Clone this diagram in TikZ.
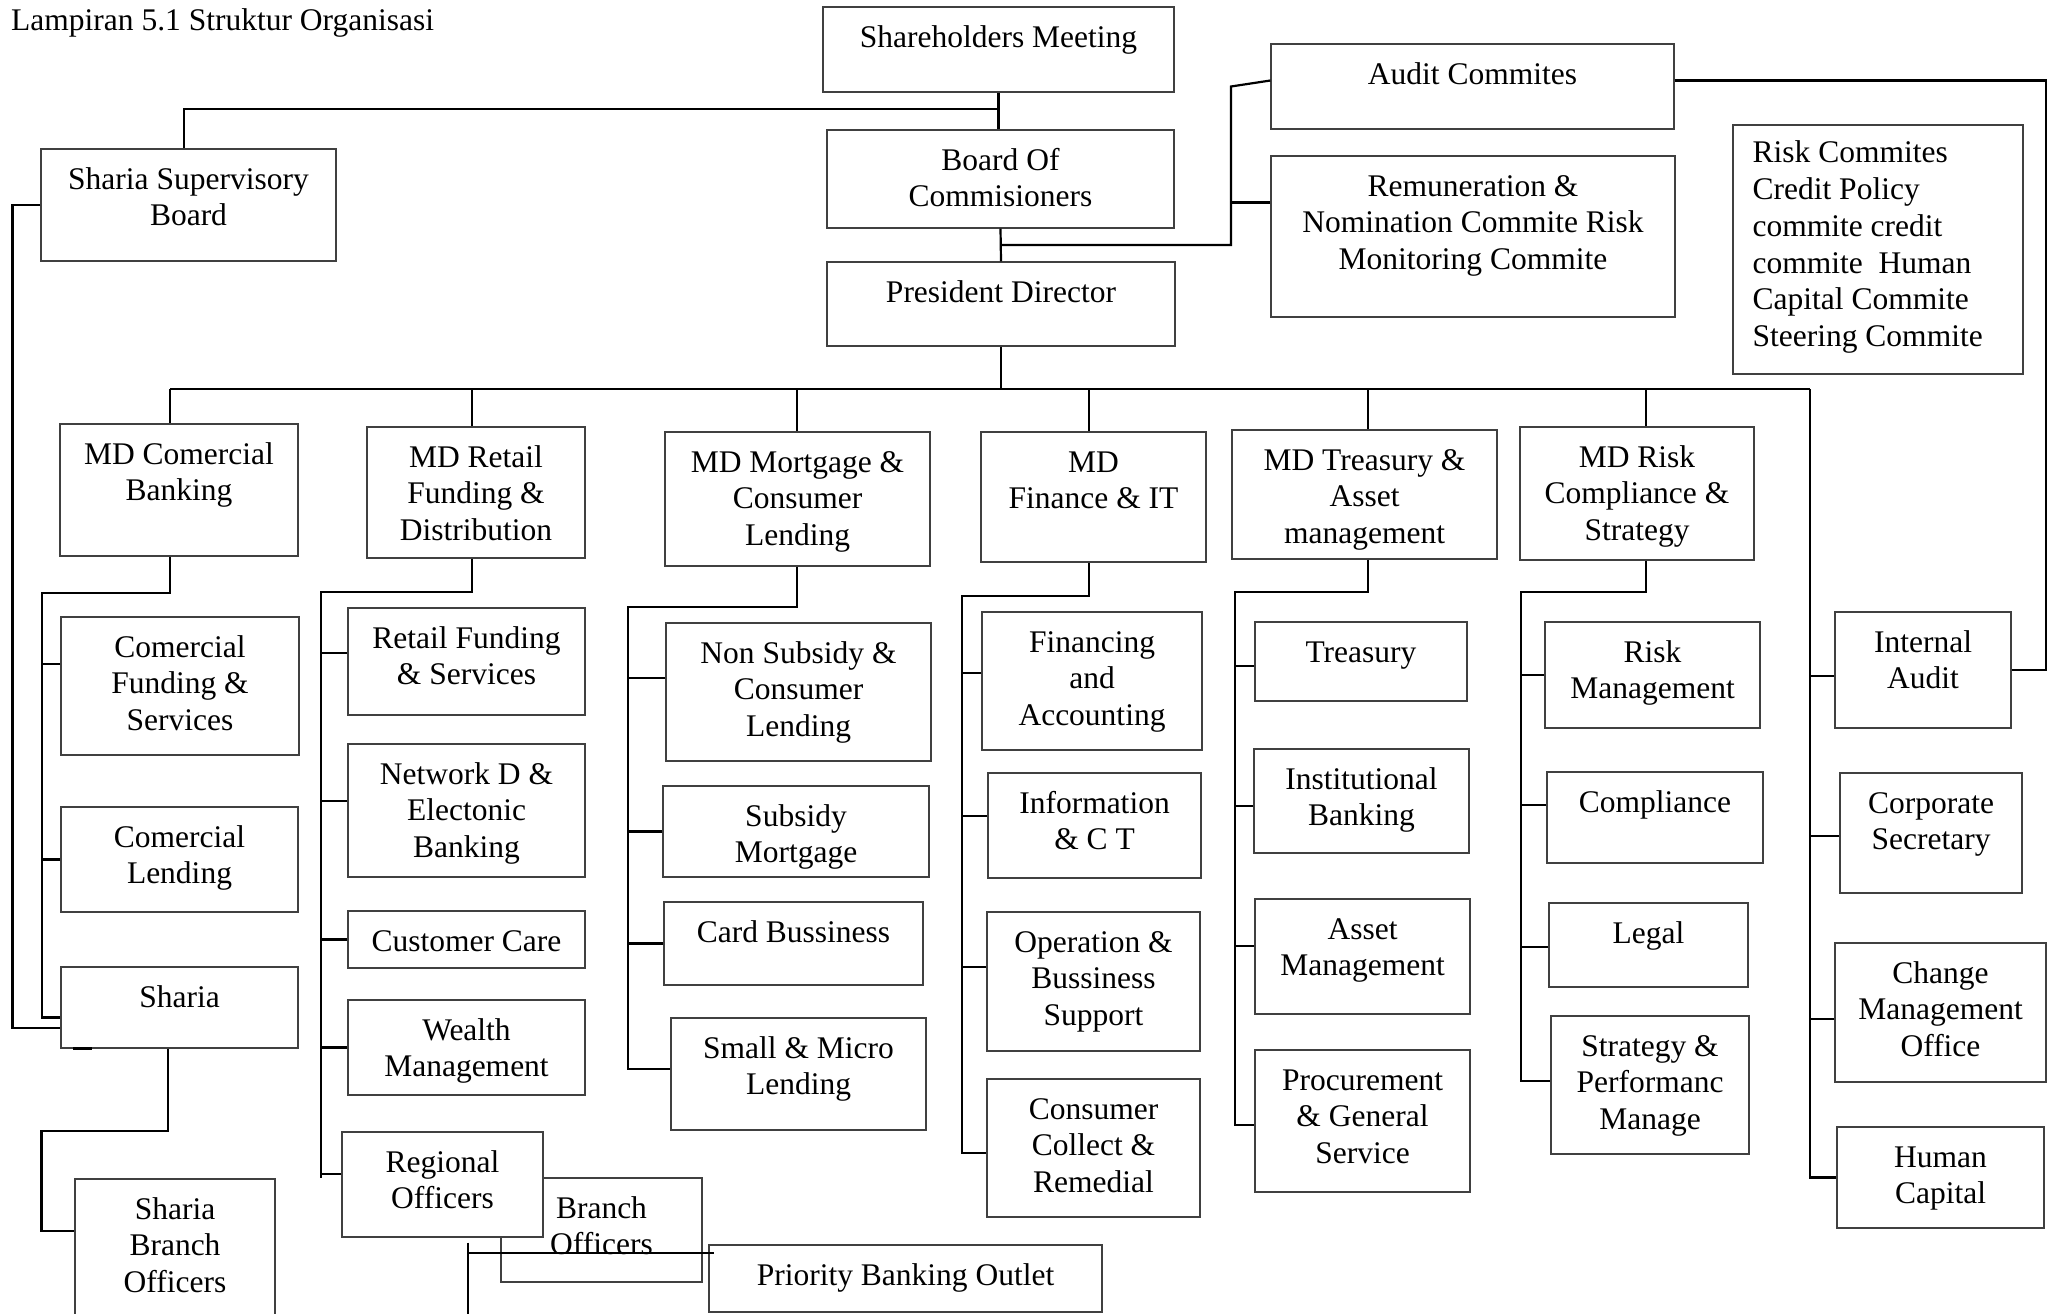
\documentclass[tikz,border=0pt]{standalone}
\usepackage{fontspec}
\setmainfont{Liberation Serif}
\usetikzlibrary{fit,calc}
\newcommand\BX[6]{%
  \coordinate (#1-a) at (#2,#3);
  \coordinate (#1-b) at (#4,#5);
  \node[boxst, fit=(#1-a)(#1-b)] (#1) {};
  \node[txt, anchor=north] (#1-t) at ($(#1.north)+(0,15.5)$) {\rule{0pt}{25pt}#6};}
\begin{document}
\begin{tikzpicture}[x=1pt,y=-1pt,
  boxst/.style={draw=black!75, line width=1.2pt, inner sep=0pt, fill=white},
  txt/.style={align=center, inner sep=0pt, font=\fontsize{31.5pt}{36.8pt}\selectfont},
  con/.style={line width=2.2pt, black}]
\useasboundingbox (0,0) rectangle (2053,1314);
\fill[white] (0,0) rectangle (2053,1314);
\node[txt, anchor=base west] (title) at (11,31) {Lampiran 5.1 Struktur Organisasi};
% top level
\BX{sm}{823}{7}{1174}{92}{Shareholders Meeting}
\BX{boc}{827}{130}{1174}{228}{Board Of\\Commisioners}
\BX{pd}{827}{262}{1175}{346}{President Director}
\BX{ac}{1271}{44}{1674}{129}{Audit Commites}
\BX{rem}{1271}{156}{1675}{317}{Remuneration \&\\Nomination Commite Risk\\Monitoring Commite}
\coordinate (rc-a) at (1733,125); \coordinate (rc-b) at (2023,374);
\node[boxst, fit=(rc-a)(rc-b)] (rc) {};
\node[txt, align=left, anchor=north west] (rc-t) at ($(rc.north west)+(20,13)$) {\rule{0pt}{25pt}Risk Commites\\Credit Policy\\commite credit\\commite~ Human\\Capital Commite\\Steering Commite};
\BX{ssb}{41}{149}{336}{261}{Sharia Supervisory\\Board}
% MD row
\BX{mdc}{60}{424}{298}{556}{MD Comercial\\Banking}
\BX{mdr}{367}{427}{585}{558}{MD Retail\\Funding \&\\Distribution}
\BX{mdm}{665}{432}{930}{566}{MD Mortgage \&\\Consumer\\Lending}
\BX{mdf}{981}{432}{1206}{562}{MD\\Finance \& IT}
\BX{mdt}{1232}{430}{1497}{559}{MD Treasury \&\\Asset\\management}
\BX{mdk}{1520}{427}{1754}{560}{MD Risk\\Compliance \&\\Strategy}
% commercial
\BX{cfs}{61}{617}{299}{755}{Comercial\\Funding \&\\Services}
\BX{cl}{61}{807}{298}{912}{Comercial\\Lending}
\BX{sh}{61}{967}{298}{1048}{Sharia}
\BX{sbo}{75}{1179}{275}{1322}{Sharia\\Branch\\Officers}
% retail
\BX{rfs}{348}{608}{585}{715}{Retail Funding\\\& Services}
\BX{nde}{348}{744}{585}{877}{Network D \&\\Electonic\\Banking}
\BX{cc}{348}{911}{585}{968}{Customer Care}
\BX{wm}{348}{1000}{585}{1095}{Wealth\\Management}
\BX{bo}{501}{1178}{702}{1282}{Branch\\Officers}
\BX{ro}{342}{1132}{543}{1237}{Regional\\Officers}
\BX{pbo}{709}{1245}{1102}{1312}{Priority Banking Outlet}
% mortgage
\BX{nsc}{666}{623}{931}{761}{Non Subsidy \&\\Consumer\\Lending}
\BX{smg}{663}{786}{929}{877}{Subsidy\\Mortgage}
\BX{cb}{664}{902}{923}{985}{Card Bussiness}
\BX{sml}{671}{1018}{926}{1130}{Small \& Micro\\Lending}
% finance
\BX{fa}{982}{612}{1202}{750}{Financing\\and\\Accounting}
\BX{ict}{988}{773}{1201}{878}{Information\\\& C T}
\BX{obs}{987}{912}{1200}{1051}{Operation \&\\Bussiness\\Support}
\BX{ccr}{987}{1079}{1200}{1217}{Consumer\\Collect \&\\Remedial}
% treasury
\BX{tr}{1255}{622}{1467}{701}{Treasury}
\BX{ib}{1254}{749}{1469}{853}{Institutional\\Banking}
\BX{am}{1255}{899}{1470}{1014}{Asset\\Management}
\BX{pgs}{1255}{1050}{1470}{1192}{Procurement\\\& General\\Service}
% risk
\BX{rm}{1545}{622}{1760}{728}{Risk\\Management}
\BX{cp}{1547}{772}{1763}{863}{Compliance}
\BX{lg}{1549}{903}{1748}{987}{Legal}
\BX{spm}{1551}{1016}{1749}{1154}{Strategy \&\\Performanc\\Manage}
% staff
\BX{ia}{1835}{612}{2011}{728}{Internal\\Audit}
\BX{cs}{1840}{773}{2022}{893}{Corporate\\Secretary}
\BX{cmo}{1835}{943}{2046}{1082}{Change\\Management\\Office}
\BX{hc}{1837}{1127}{2044}{1228}{Human\\Capital}
% ---------- connectors ----------
\coordinate (jSSB) at ($(sm.south)+(0,16)$);
\draw[con] (sm.south) -- (sm.south |- boc.north);
\draw[con] ([xshift=-4.5pt]ssb.north) |- (jSSB);
\coordinate (jB) at ($(boc.south)!0.5!(pd.north)$);
\coordinate (jC) at (1231,0);
\draw[con] (boc.south) -- (pd.north);
\draw[con] (jB) -| (jC |- ac.west) -- ([yshift=6pt]ac.west);
\draw[con] ([yshift=34pt]rem.west) -- ++(-40,0);
\coordinate (jR) at (2046,0);
\draw[con] ([yshift=6pt]ac.east) -| (jR |- ia.east) -- (ia.east);
% drop positions of the managing directors
\coordinate (xC) at (170,0);
\coordinate (xR) at (472,0);
\coordinate (xM) at (797,0);
\coordinate (xF) at (1089,0);
\coordinate (xT) at (1368,0);
\coordinate (xK) at (1646,0);
% bus
\coordinate (busL) at (170,389);
\coordinate (busR) at (1810,389);
\draw[con] (pd.south) -- (pd.south |- busL);
\draw[con] (busL) -- (busR);
\draw[con] (xC |- busL) -- (xC |- mdc.north);
\draw[con] (xR |- busL) -- (xR |- mdr.north);
\draw[con] (xM |- busL) -- (xM |- mdm.north);
\draw[con] (xF |- busL) -- (xF |- mdf.north);
\draw[con] (xT |- busL) -- (xT |- mdt.north);
\draw[con] (xK |- busL) -- (xK |- mdk.north);
% staff column
\draw[con] (busR) |- (hc.west);
\draw[con] ([yshift=-6pt]ia.west) -- ++(-25,0);
\draw[con] ([yshift=-3pt]cs.west) -- ++(-30,0);
\draw[con] ([yshift=-6.5pt]cmo.west) -- ++(-25,0);
% commercial group
\coordinate (gC) at (42,593);
\draw[con] (xC |- mdc.south) |- (gC) |- ([yshift=-10pt]sh.west);
\draw[con] ([yshift=22pt]cfs.west) -- ++(-19,0);
\draw[con] (cl.west) -- ++(-19,0);
\draw[con] (ssb.west) -- ++(-28,0) |- ([yshift=-20.5pt]sh.west);
\draw[con] ([xshift=-11.5pt]sh.south) -- ++(0,82) -| ([xshift=-33pt,yshift=19.5pt]sbo.west) -- ([yshift=19.5pt]sbo.west);
\draw[line width=3pt] ([xshift=13pt]sh.south west) -- ++(19,0);
% retail group
\coordinate (gR) at (321,592);
\draw[con] (xR |- mdr.south) |- (gR) -- ++(0,586);
\draw[con] ([yshift=8.5pt]rfs.west) -- ++(-27,0);
\draw[con] ([yshift=9.5pt]nde.west) -- ++(-27,0);
\draw[con] (cc.west) -- ++(-27,0);
\draw[con] (wm.west) -- ++(-27,0);
\draw[con] ([yshift=10.5pt]ro.west) -- ++(-21,0);
\coordinate (gP) at (468,1253);
\draw[con] ([xshift=25.5pt,yshift=-5pt]ro.south) -- ++(0,85);
\draw[con] (gP) -- ([xshift=6pt,yshift=25.5pt]pbo.west);
% mortgage group
\coordinate (gM) at (628,607);
\draw[con] (xM |- mdm.south) |- (gM) |- ([yshift=5pt]sml.west);
\draw[con] ([yshift=14pt]nsc.west) -- ++(-38,0);
\draw[con] (smg.west) -- ++(-35,0);
\draw[con] (cb.west) -- ++(-36,0);
% finance group
\coordinate (gF) at (962,596);
\draw[con] (xF |- mdf.south) |- (gF) |- ([yshift=-5pt]ccr.west);
\draw[con] ([yshift=8pt]fa.west) -- ++(-20,0);
\draw[con] ([yshift=9.5pt]ict.west) -- ++(-26,0);
\draw[con] ([yshift=14.5pt]obs.west) -- ++(-25,0);
% treasury group
\coordinate (gT) at (1235,592);
\draw[con] (xT |- mdt.south) |- (gT) |- ([yshift=-4pt]pgs.west);
\draw[con] ([yshift=-4.5pt]tr.west) -- ++(-20,0);
\draw[con] ([yshift=-5pt]ib.west) -- ++(-19,0);
\draw[con] ([yshift=10.5pt]am.west) -- ++(-20,0);
% risk group
\coordinate (gK) at (1521,592);
\draw[con] (xK |- mdk.south) |- (gK) |- ([yshift=4pt]spm.west);
\draw[con] (rm.west) -- ++(-24,0);
\draw[con] ([yshift=12.5pt]cp.west) -- ++(-26,0);
\draw[con] ([yshift=-2pt]lg.west) -- ++(-28,0);
\end{tikzpicture}
\end{document}
